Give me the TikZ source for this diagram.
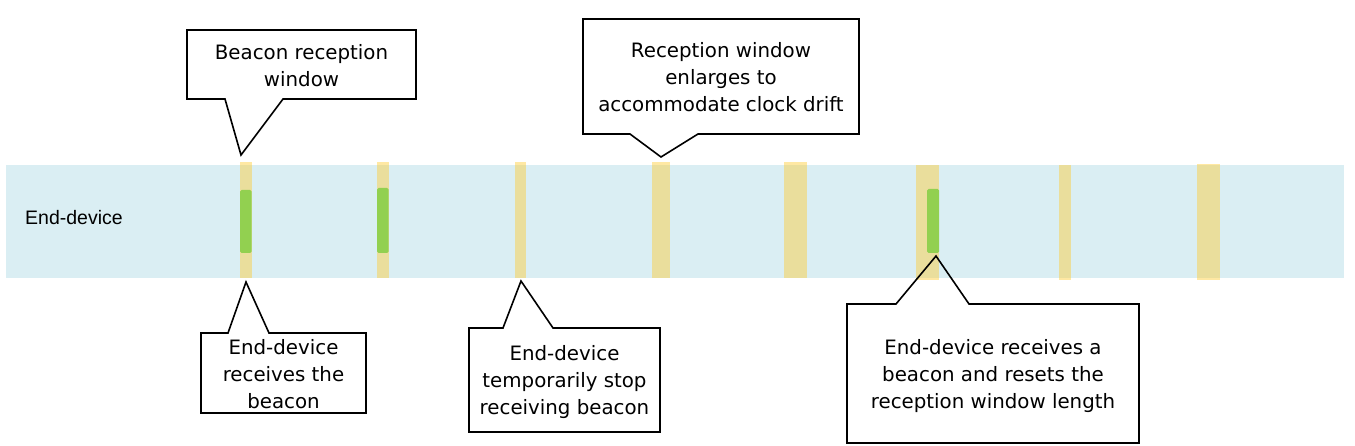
\documentclass[tikz,border=0pt]{standalone}
\usepackage{fontspec}
\setmainfont{DejaVu Sans}
\newfontfamily\labfont{Liberation Sans}
\definecolor{bandblue}{HTML}{DAEEF3}
\definecolor{wingold}{HTML}{FFCC33}
\definecolor{beacongreen}{HTML}{92D050}
\tikzset{
  band/.style={fill=bandblue, draw=none},
  window/.style={fill=wingold, fill opacity=0.45, draw=none},
  rxbar/.style={fill=beacongreen, draw=none, rounded corners=1.5pt},
  callout/.style={draw=black, line width=1.6pt, line join=miter},
  ctext/.style={align=center, inner sep=0pt, font=\fontsize{19.8}{27}\selectfont},
}
\begin{document}
\begin{tikzpicture}[x=1pt,y=-1pt]
\useasboundingbox (0,0) rectangle (1355,446);
% band
\fill[band] (6,165) rectangle (1344,278);
\node[anchor=west, inner sep=0pt, font=\labfont\fontsize{19.5}{22}\selectfont] (lbl) at (25,218) {End-device};
% reception windows
\fill[window] (240,162.5) rectangle (252,278);
\fill[window] (377,162.5) rectangle (389,278);
\fill[window] (515,162.5) rectangle (526,278);
\fill[window] (652,162.5) rectangle (669.5,278);
\fill[window] (784,162.5) rectangle (807,278);
\fill[window] (916,165) rectangle (939,280);
\fill[window] (1059,165) rectangle (1070.5,280);
\fill[window] (1197,164.5) rectangle (1220,280.5);
% received beacons
\fill[rxbar] (240,190) rectangle (251.5,253);
\fill[rxbar] (377,188) rectangle (388.5,253);
\fill[rxbar] (927,189) rectangle (939,253);
% tips
\coordinate (t1) at (241,155);
\coordinate (t2) at (246,282);
\coordinate (t3) at (521,281);
\coordinate (t4) at (661,157);
\coordinate (t5) at (936,256);
% callouts
\draw[callout] (187,30) -- (416,30) -- (416,99) -- (283,99) -- (t1) -- (225,99) -- (187,99) -- cycle;
\node[ctext] (c1) at (301.5,66) {Beacon reception\\window};
\draw[callout] (201,333) -- (228,333) -- (t2) -- (269,333) -- (366,333) -- (366,413) -- (201,413) -- cycle;
\node[ctext] (c2) at (283.5,374.5) {End-device\\receives the\\beacon};
\draw[callout] (469,328) -- (503,328) -- (t3) -- (553,328) -- (660,328) -- (660,432) -- (469,432) -- cycle;
\node[ctext] (c3) at (564.5,382) {End-device\\temporarily stop\\receiving beacon};
\draw[callout] (583,19) -- (859,19) -- (859,134) -- (698,134) -- (t4) -- (630,134) -- (583,134) -- cycle;
\node[ctext] (c4) at (721,77) {Reception window\\enlarges to\\accommodate clock drift};
\draw[callout] (847,304) -- (896,304) -- (t5) -- (969,304) -- (1139,304) -- (1139,443) -- (847,443) -- cycle;
\node[ctext] (c5) at (993,376) {End-device receives a\\beacon and resets the\\reception window length};
\end{tikzpicture}
\end{document}
